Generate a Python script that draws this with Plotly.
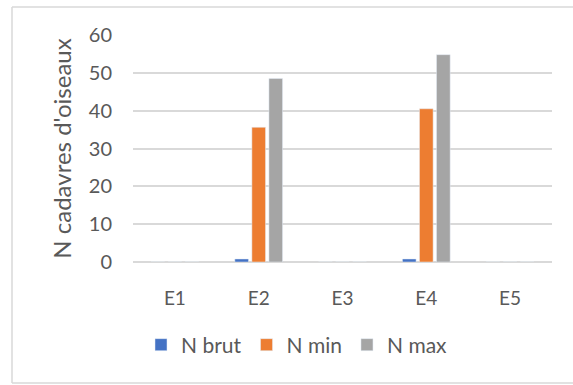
import plotly.graph_objects as go

categories = ["E1", "E2", "E3", "E4", "E5"]
n_brut = [0, 0.8, 0, 0.8, 0]
n_min = [0, 35.6, 0, 40.5, 0]
n_max = [0, 48.5, 0, 54.8, 0]
y_ticks = [0, 10, 20, 30, 40, 50, 60]

FONT = "Lato, 'Liberation Sans', sans-serif"
TXT = "#595959"

fig = go.Figure()
fig.add_bar(name="N brut", x=categories, y=n_brut, marker_color="#4472C4")
fig.add_bar(name="N min", x=categories, y=n_min, marker_color="#ED7D31")
fig.add_bar(name="N max", x=categories, y=n_max, marker_color="#A5A5A5")

W, H = 573, 385
L, R, T, B = 133, 21, 35, 123
pw, ph = W - L - R, H - T - B

def px(x):
    return (x - L) / pw

def py(y):
    return (H - B - y) / ph

border = dict(color="#D9D9D9", width=1.5)
shapes = [
    dict(type="line", xref="paper", yref="paper", x0=px(12), x1=px(573), y0=py(7), y1=py(7), line=border, layer="below"),
    dict(type="line", xref="paper", yref="paper", x0=px(12), x1=px(573), y0=py(383), y1=py(383), line=border, layer="below"),
    dict(type="line", xref="paper", yref="paper", x0=px(12), x1=px(12), y0=py(7), y1=py(383), line=border, layer="below"),
]

fig.update_layout(
    width=W, height=H,
    margin=dict(l=L, r=R, t=T, b=B, autoexpand=False),
    paper_bgcolor="white", plot_bgcolor="white",
    barmode="group", bargap=0.39, bargroupgap=0.2,
    font=dict(family=FONT, color=TXT, size=18),
    showlegend=True,
    legend=dict(orientation="h", x=px(297), xanchor="center", y=py(345), yanchor="middle",
                font=dict(size=21, color=TXT, family=FONT), itemwidth=30,
                traceorder="normal"),
    xaxis=dict(showgrid=False, showline=False, zeroline=False, automargin=False,
               tickfont=dict(size=19, color=TXT), ticks="", ticklabelstandoff=23,
               fixedrange=True),
    yaxis=dict(range=[0, 60], tickvals=y_ticks, showgrid=True, gridcolor="#D9D9D9",
               gridwidth=1.5, zeroline=True, zerolinecolor="#D9D9D9", zerolinewidth=1.5,
               showline=False, ticks="", tickfont=dict(size=20, color=TXT),
               ticklabelstandoff=20, automargin=False, fixedrange=True,
               title=dict(text="N cadavres d'oiseaux", font=dict(size=24, color=TXT), standoff=10)),
    shapes=shapes,
)

fig.write_html("out.html", post_script="document.body.style.margin='0';",
               config={"displayModeBar": False})
